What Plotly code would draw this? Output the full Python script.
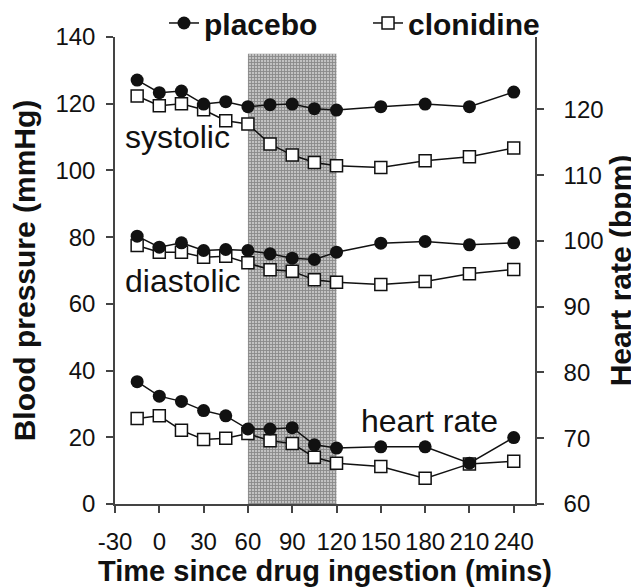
import plotly.graph_objects as go

time_min = [-15, 0, 15, 30, 45, 60, 75, 90, 105, 120, 150, 180, 210, 240]

systolic_placebo = [127.1, 123.3, 123.8, 119.9, 120.6, 119.1, 119.7, 119.9, 118.5, 118.1, 119.1, 119.9, 119.1, 123.5]
systolic_clonidine = [122.3, 119.4, 120.0, 118.2, 114.9, 113.9, 107.9, 104.6, 102.4, 101.4, 100.9, 102.9, 104.1, 106.7]
diastolic_placebo = [80.3, 77.0, 78.3, 76.0, 76.3, 76.0, 75.0, 73.7, 73.3, 75.5, 78.2, 78.7, 77.7, 78.3]
diastolic_clonidine = [77.5, 75.5, 75.5, 74.0, 74.3, 72.3, 70.2, 69.8, 67.2, 66.5, 65.8, 66.7, 69.0, 70.3]
hr_placebo = [78.6, 76.4, 75.6, 74.2, 73.4, 71.4, 71.4, 71.6, 69.0, 68.5, 68.7, 68.7, 66.2, 70.1]
hr_clonidine = [73.0, 73.4, 71.2, 69.8, 70.0, 70.7, 69.6, 69.2, 67.1, 66.2, 65.7, 63.9, 66.1, 66.5]

# shaded drug period (x centre, width, height in mmHg)
shade_x = [90]
shade_width = [60]
shade_height = [135]

x_ticks = [-30, 0, 30, 60, 90, 120, 150, 180, 210, 240]
bp_ticks = [0, 20, 40, 60, 80, 100, 120, 140]
hr_ticks = [60, 70, 80, 90, 100, 110, 120]

FONT = "Liberation Sans, Arial, sans-serif"
BLACK = "#111111"

fig = go.Figure()

fig.add_trace(go.Bar(
    x=shade_x, y=shade_height, width=shade_width, base=0,
    marker=dict(color="#b0b0b0", line=dict(width=0),
                pattern=dict(shape="+", fgcolor="#505050", bgcolor="#c2c2c2", size=3, solidity=0.5)),
    showlegend=False, hoverinfo="skip", yaxis="y"))

placebo_style = dict(mode="lines+markers", line=dict(color=BLACK, width=1.5),
                     marker=dict(symbol="circle", size=13, color=BLACK))
clon_style = dict(mode="lines+markers", line=dict(color=BLACK, width=1.5),
                  marker=dict(symbol="square", size=12, color="white", line=dict(color=BLACK, width=1.5)))

fig.add_trace(go.Scatter(x=time_min, y=systolic_clonidine, name="<b>clonidine</b>", showlegend=False, **clon_style))
fig.add_trace(go.Scatter(x=time_min, y=systolic_placebo, name="<b>placebo</b>", showlegend=False, **placebo_style))
fig.add_trace(go.Scatter(x=time_min, y=diastolic_clonidine, name="<b>clonidine</b>", showlegend=False, **clon_style))
fig.add_trace(go.Scatter(x=time_min, y=diastolic_placebo, name="<b>placebo</b>", showlegend=False, **placebo_style))
fig.add_trace(go.Scatter(x=time_min, y=hr_clonidine, name="<b>clonidine</b>", showlegend=True, yaxis="y2", legendrank=2, **clon_style))
fig.add_trace(go.Scatter(x=time_min, y=hr_placebo, name="<b>placebo</b>", showlegend=True, yaxis="y2", legendrank=1, **placebo_style))

axis_common = dict(showgrid=False, zeroline=False, showline=True, linecolor="#444444", linewidth=1.5,
                   ticks="outside", ticklen=7, tickcolor="#444444", tickwidth=1.5,
                   tickfont=dict(family=FONT, size=24, color=BLACK))

fig.update_layout(
    width=631, height=579,
    margin=dict(l=107, r=104, t=29, b=83, autoexpand=False),
    paper_bgcolor="white", plot_bgcolor="white",
    font=dict(family=FONT, color=BLACK),
    barmode="overlay",
    xaxis=dict(range=[-30, 254.4], tickvals=x_ticks, ticktext=[str(v) for v in x_ticks],
               ticklabelstandoff=8, automargin=False,
               title=dict(text="<b>Time since drug ingestion (mins)</b>", font=dict(size=29)),
               **axis_common),
    yaxis=dict(range=[0, 140], tickvals=bp_ticks, ticklabelstandoff=6, automargin=False,
               title=dict(text="<b>Blood pressure (mmHg)</b>", font=dict(size=30)),
               **axis_common),
    yaxis2=dict(range=[60, 131], tickvals=hr_ticks, overlaying="y", side="right", ticklabelstandoff=15,
                automargin=True,
                title=dict(text="<b>Heart rate (bpm)</b>", font=dict(size=30), standoff=6),
                **axis_common),
    legend=dict(orientation="h", x=0.1167, xanchor="left", y=1.0857, yanchor="top", entrywidth=159,
                font=dict(family=FONT, size=30, color=BLACK), bgcolor="rgba(0,0,0,0)",
                traceorder="normal"),
    showlegend=True,
    annotations=[
        dict(text="systolic", x=-24.6, y=110, xref="x", yref="y", xanchor="left", yanchor="middle",
             showarrow=False, font=dict(family=FONT, size=32, color=BLACK)),
        dict(text="diastolic", x=-24.6, y=67, xref="x", yref="y", xanchor="left", yanchor="middle",
             showarrow=False, font=dict(family=FONT, size=32, color=BLACK)),
        dict(text="heart rate", x=135, y=24.8, xref="x", yref="y", xanchor="left", yanchor="middle",
             showarrow=False, font=dict(family=FONT, size=32, color=BLACK)),
    ],
)

fig.write_html("out.html")
